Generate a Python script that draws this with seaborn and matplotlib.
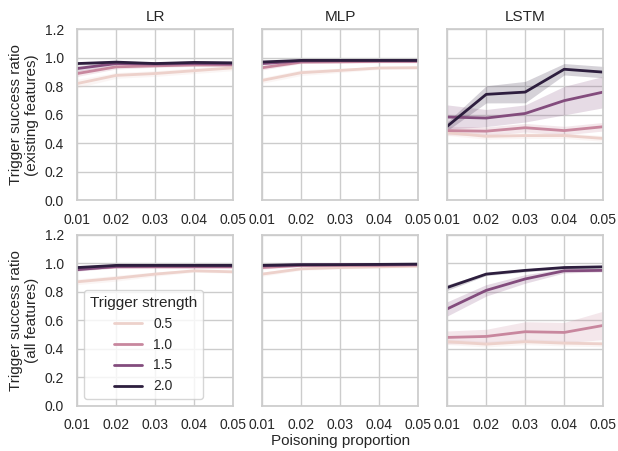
import numpy as np
import pandas as pd
import matplotlib
matplotlib.use("Agg")
import matplotlib.pyplot as plt
import seaborn as sns

sns.set_theme(style="whitegrid")
plt.rcParams["font.family"] = ["Liberation Sans", "DejaVu Sans"]
plt.rcParams["xtick.labelsize"] = 10
plt.rcParams["ytick.labelsize"] = 10
plt.rcParams["axes.labelsize"] = 11
plt.rcParams["axes.titlesize"] = 11
plt.rcParams["legend.fontsize"] = 10
plt.rcParams["legend.title_fontsize"] = 11

proportions = [0.01, 0.02, 0.03, 0.04, 0.05]
strengths = [0.5, 1.0, 1.5, 2.0]
models = ["LR", "MLP", "LSTM"]
row_labels = ["Trigger success ratio\n(existing features)",
              "Trigger success ratio\n(all features)"]

# mean ratio per strength (rows follow strengths)
lr_exist_mean = [[0.82, 0.877, 0.89, 0.91, 0.93],
                 [0.89, 0.937, 0.944, 0.95, 0.95],
                 [0.925, 0.96, 0.957, 0.96, 0.957],
                 [0.96, 0.97, 0.96, 0.968, 0.965]]
lr_exist_err = [[0.03, 0.02, 0.02, 0.02, 0.02],
                [0.02, 0.015, 0.01, 0.01, 0.01],
                [0.02, 0.01, 0.01, 0.01, 0.01],
                [0.01, 0.01, 0.01, 0.01, 0.01]]
mlp_exist_mean = [[0.842, 0.896, 0.912, 0.929, 0.931],
                  [0.931, 0.97, 0.972, 0.975, 0.975],
                  [0.96, 0.978, 0.98, 0.98, 0.98],
                  [0.971, 0.982, 0.982, 0.982, 0.982]]
mlp_exist_err = [[0.02, 0.02, 0.015, 0.01, 0.01],
                 [0.015, 0.01, 0.01, 0.01, 0.01],
                 [0.01, 0.01, 0.01, 0.01, 0.01],
                 [0.01, 0.01, 0.01, 0.01, 0.01]]
lstm_exist_mean = [[0.475, 0.45, 0.455, 0.455, 0.435],
                   [0.49, 0.486, 0.51, 0.49, 0.517],
                   [0.585, 0.578, 0.61, 0.70, 0.76],
                   [0.52, 0.744, 0.76, 0.92, 0.90]]
lstm_exist_err = [[0.02, 0.02, 0.02, 0.02, 0.02],
                  [0.03, 0.03, 0.03, 0.03, 0.03],
                  [0.085, 0.06, 0.06, 0.10, 0.11],
                  [0.03, 0.06, 0.075, 0.04, 0.04]]

lr_all_mean = [[0.87, 0.895, 0.924, 0.947, 0.94],
               [0.96, 0.975, 0.975, 0.975, 0.975],
               [0.955, 0.978, 0.98, 0.98, 0.98],
               [0.97, 0.985, 0.985, 0.985, 0.985]]
lr_all_err = [[0.02, 0.02, 0.015, 0.01, 0.01],
              [0.01, 0.01, 0.01, 0.01, 0.01],
              [0.01, 0.01, 0.01, 0.01, 0.01],
              [0.01, 0.01, 0.01, 0.01, 0.01]]
mlp_all_mean = [[0.924, 0.961, 0.97, 0.975, 0.98],
                [0.97, 0.985, 0.985, 0.985, 0.988],
                [0.982, 0.988, 0.99, 0.99, 0.992],
                [0.985, 0.99, 0.99, 0.992, 0.994]]
mlp_all_err = [[0.015, 0.01, 0.01, 0.01, 0.01],
               [0.01, 0.01, 0.01, 0.01, 0.01],
               [0.01, 0.01, 0.01, 0.01, 0.01],
               [0.01, 0.01, 0.01, 0.01, 0.01]]
lstm_all_mean = [[0.45, 0.433, 0.45, 0.44, 0.435],
                 [0.48, 0.487, 0.52, 0.515, 0.564],
                 [0.68, 0.81, 0.89, 0.947, 0.95],
                 [0.83, 0.924, 0.95, 0.97, 0.975]]
lstm_all_err = [[0.02, 0.02, 0.02, 0.02, 0.02],
                [0.045, 0.05, 0.07, 0.07, 0.1],
                [0.05, 0.04, 0.03, 0.015, 0.01],
                [0.02, 0.01, 0.01, 0.01, 0.01]]

panels = [[(lr_exist_mean, lr_exist_err), (mlp_exist_mean, mlp_exist_err),
           (lstm_exist_mean, lstm_exist_err)],
          [(lr_all_mean, lr_all_err), (mlp_all_mean, mlp_all_err),
           (lstm_all_mean, lstm_all_err)]]

cmap = sns.color_palette("ch:", as_cmap=True)
norm = plt.Normalize(min(strengths), max(strengths))
palette = {s: cmap(norm(s)) for s in strengths}


def to_frame(means):
    rows = []
    for s, vals in zip(strengths, means):
        for p, v in zip(proportions, vals):
            rows.append({"Poisoning proportion": p, "ratio": v, "Trigger strength": s})
    return pd.DataFrame(rows)


fig, axes = plt.subplots(2, 3, figsize=(6.18, 4.51), sharey=True)
fig.subplots_adjust(left=0.125, right=0.976, top=0.935, bottom=0.1,
                    wspace=0.186, hspace=0.2)

for r in range(2):
    for c in range(3):
        ax = axes[r, c]
        means, errs = panels[r][c]
        df = to_frame(means)
        show_legend = (r == 1 and c == 0)
        for s, m, e in zip(strengths, means, errs):
            m = np.array(m)
            e = np.array(e)
            ax.fill_between(proportions, m - e, m + e, color=palette[s],
                            alpha=0.2, linewidth=0)
        sns.lineplot(data=df, x="Poisoning proportion", y="ratio",
                     hue="Trigger strength", palette=palette, linewidth=2,
                     errorbar=None, legend=show_legend, ax=ax)
        ax.set_xlim(0.01, 0.05)
        ax.set_ylim(0, 1.2)
        ax.set_xticks(proportions)
        ax.set_xticklabels([f"{p:.2f}" for p in proportions])
        ax.set_yticks(np.arange(0, 1.21, 0.2))
        ax.tick_params(axis="x", pad=3)
        ax.set_xlabel("")
        ax.set_ylabel(row_labels[r] if c == 0 else "")
        if r == 0:
            ax.set_title(models[c])
        if show_legend:
            ax.legend(title="Trigger strength", loc="lower left")

axes[1, 1].set_xlabel("Poisoning proportion", labelpad=1)

plt.savefig("out.png", dpi=100)
plt.close()
